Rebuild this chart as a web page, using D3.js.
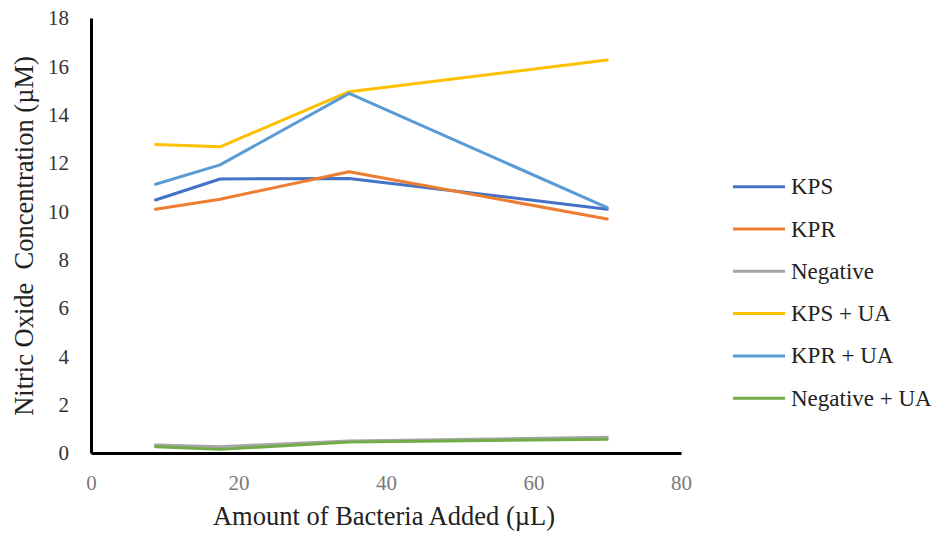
<!DOCTYPE html>
<html>
<head>
<meta charset="utf-8">
<script src="https://cdn.jsdelivr.net/npm/d3@7"></script>
<style>
  html, body { margin: 0; padding: 0; background: #fff; }
  svg { display: block; }
  svg text { font-family: "Liberation Serif", "Times New Roman", serif; }
</style>
</head>
<body>
<svg id="chart" width="942" height="533"></svg>
<script>
// Amount of bacteria added (µL)
const xValues = [8.75, 17.5, 35, 70];

// Nitric oxide concentration (µM) per series
const seriesNames = ["KPS", "KPR", "Negative", "KPS + UA", "KPR + UA", "Negative + UA"];
const kps        = [10.47, 11.34, 11.36, 10.09];
const kpr        = [10.09, 10.50, 11.64, 9.68];
const negative   = [0.33, 0.26, 0.50, 0.65];
const kpsUA      = [12.77, 12.67, 14.95, 16.26];
const kprUA      = [11.12, 11.92, 14.88, 10.15];
const negativeUA = [0.26, 0.15, 0.45, 0.57];
const seriesValues = [kps, kpr, negative, kpsUA, kprUA, negativeUA];
const seriesColors = ["#4472C4", "#ED7D31", "#A5A5A5", "#FFC000", "#5B9BD5", "#70AD47"];

const xTicks = [0, 20, 40, 60, 80];
const yTicks = [0, 2, 4, 6, 8, 10, 12, 14, 16, 18];

const serif = '"Liberation Serif", "Times New Roman", serif';
const svg = d3.select("#chart");

const x = d3.scaleLinear().domain([0, 80]).range([91, 681]);
const y = d3.scaleLinear().domain([0, 18]).range([453, 18]);

// Y axis
const yAxis = svg.append("g")
  .attr("transform", `translate(${x(0)},0)`)
  .call(d3.axisLeft(y).tickValues(yTicks).tickSize(0).tickSizeOuter(0).tickPadding(22));
yAxis.attr("font-family", null);
yAxis.select(".domain").attr("stroke", "#000").attr("stroke-width", 3);
yAxis.selectAll("text")
  .style("font-family", serif)
  .style("font-size", "21px").attr("fill", "#333");

// X axis
const xAxis = svg.append("g")
  .attr("transform", `translate(0,${y(0)})`)
  .call(d3.axisBottom(x).tickValues(xTicks).tickSize(0).tickSizeOuter(0).tickPadding(22));
xAxis.attr("font-family", null);
xAxis.select(".domain").attr("stroke", "#000").attr("stroke-width", 3);
xAxis.selectAll("text")
  .style("font-family", serif)
  .style("font-size", "21px").attr("fill", "#7a7a7a");

// Series lines
const line = d3.line()
  .x((d, i) => x(xValues[i]))
  .y(d => y(d));

svg.append("g").selectAll("path")
  .data(seriesValues)
  .join("path")
  .attr("d", d => line(d))
  .attr("fill", "none")
  .attr("stroke", (d, i) => seriesColors[i])
  .attr("stroke-width", 3)
  .attr("stroke-linejoin", "round")
  .attr("stroke-linecap", "round");

// Axis titles
svg.append("text")
  .attr("x", 384).attr("y", 525)
  .attr("text-anchor", "middle")
  .style("font-family", serif)
  .style("font-size", "26.5px").attr("fill", "#222")
  .text("Amount of Bacteria Added (µL)");

svg.append("text")
  .attr("transform", "translate(33,236) rotate(-90)")
  .attr("text-anchor", "middle")
  .style("font-family", serif)
  .style("font-size", "26.5px").attr("fill", "#222")
  .style("white-space", "pre")
  .text("Nitric Oxide  Concentration (µM)");

// Legend
const legend = svg.append("g").selectAll("g")
  .data(seriesNames)
  .join("g")
  .attr("transform", (d, i) => `translate(733,${186.7 + i * 42.3})`);

legend.append("line")
  .attr("x1", 0).attr("x2", 52)
  .attr("stroke", (d, i) => seriesColors[i])
  .attr("stroke-width", 3);

legend.append("text")
  .attr("x", 58).attr("y", 7.5)
  .style("font-family", serif)
  .style("font-size", "23px").attr("fill", "#222")
  .text(d => d);
</script>
</body>
</html>
